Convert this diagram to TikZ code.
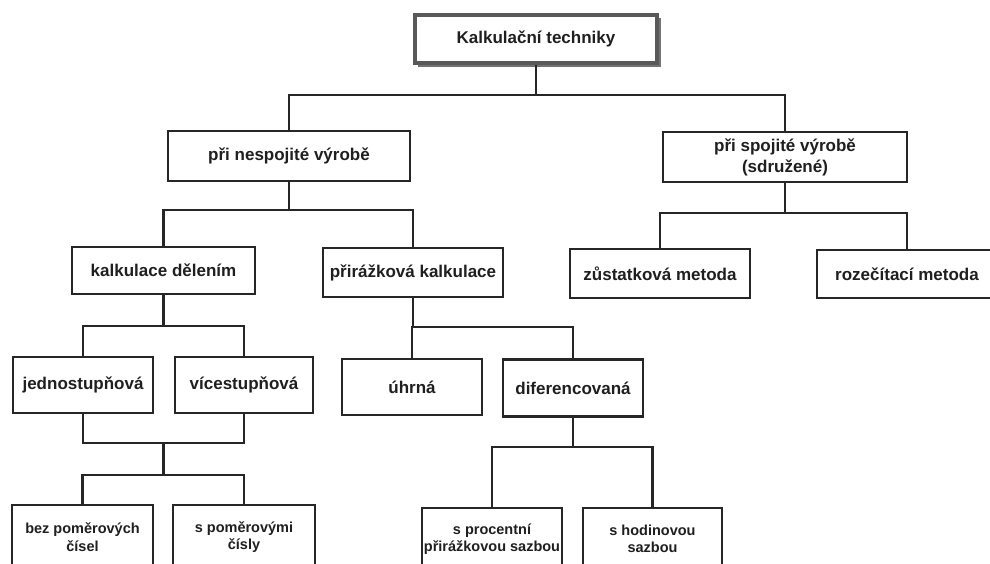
\documentclass[tikz,border=0pt]{standalone}
\usepackage{fontspec}
\setmainfont{Liberation Sans}
\begin{document}
\begin{tikzpicture}[x=1pt,y=-1pt,
  box/.style={draw=black!85, line width=2.8pt, fill=white, inner sep=0pt,
    align=center, text=black!88, font=\bfseries\fontsize{17}{21}\selectfont},
  smallbox/.style={box, font=\bfseries\fontsize{14.5}{17.5}\selectfont},
  rootbox/.style={box, draw=black!65, line width=4pt},
  wire/.style={draw=black!85, line width=2.3pt, line join=miter}]
\useasboundingbox (0,0) rectangle (990,563);
\fill[white] (0,0) rectangle (990,563);
\clip (0,0) rectangle (990,563);

% top
\fill[black!55] (418,18) rectangle (661,67);
\node[rootbox, minimum width=242, minimum height=48] (root) at (536,39) {Kalkulační techniky};

% second level
\node[box, minimum width=242, minimum height=50] (nesp) at (289,156) {při nespojité výrobě};
\node[box, minimum width=244, minimum height=50] (spoj) at (785,157) {při spojité výrobě\\(sdružené)};

% third level
\node[box, minimum width=183, minimum height=47] (del) at (163.5,270.5) {kalkulace dělením};
\node[box, minimum width=180, minimum height=49] (prir) at (413,272.5) {přirážková kalkulace};
\node[box, minimum width=180, minimum height=49] (zust) at (660,273.5) {zůstatková metoda};
\node[box, minimum width=180, minimum height=48] (roz) at (907,274) {rozečítací metoda};

% fourth level
\node[box, minimum width=140, minimum height=56] (jedno) at (83,385) {jednostupňová};
\node[box, minimum width=138, minimum height=56] (vice) at (244,385) {vícestupňová};
\node[box, minimum width=140, minimum height=56] (uhrna) at (412,387) {úhrná};
\node[box, minimum width=140, minimum height=57] (dif) at (573,388) {diferencovaná};

% fifth level
\node[smallbox, minimum width=141, minimum height=64] (bez) at (82.5,537) {bez poměrových\\čísel};
\node[smallbox, minimum width=142, minimum height=64] (spom) at (244,537) {s poměrovými\\čísly};
\node[smallbox, minimum width=140, minimum height=62] (proc) at (492,539) {s procentní\\přirážkovou sazbou};
\node[smallbox, minimum width=139, minimum height=62] (hod) at (652.5,539) {s hodinovou\\sazbou};

% junction points
\coordinate (j1) at (536,95);
\coordinate (j2) at (289,210);
\coordinate (j3) at (785,213);
\coordinate (j4) at (163.5,326);
\coordinate (j5) at (413,327);
\coordinate (m1) at (163.5,443);
\coordinate (m2) at (163.5,475);
\coordinate (j6) at (573,447);

% connectors
\draw[wire] (root.south) -- (j1);
\draw[wire] (nesp.north) |- (j1) -| (spoj.north);
\draw[wire] (nesp.south) -- (j2);
\draw[wire] (del.north) |- (j2) -| (prir.north);
\draw[wire] (spoj.south) -- (j3);
\draw[wire] (zust.north) |- (j3) -| (roz.north);
\draw[wire] (del.south) -- (j4);
\draw[wire] (jedno.north) |- (j4) -| (vice.north);
\draw[wire] (prir.south) -- (j5);
\draw[wire] (uhrna.north) |- (j5) -| (dif.north);
\draw[wire] (jedno.south) |- (m1) -| (vice.south);
\draw[wire] (m1) -- (m2);
\draw[wire] (bez.north) |- (m2) -| (spom.north);
\draw[wire] (dif.south) -- (j6);
\draw[wire] (proc.north) |- (j6) -| (hod.north);
\end{tikzpicture}
\end{document}
